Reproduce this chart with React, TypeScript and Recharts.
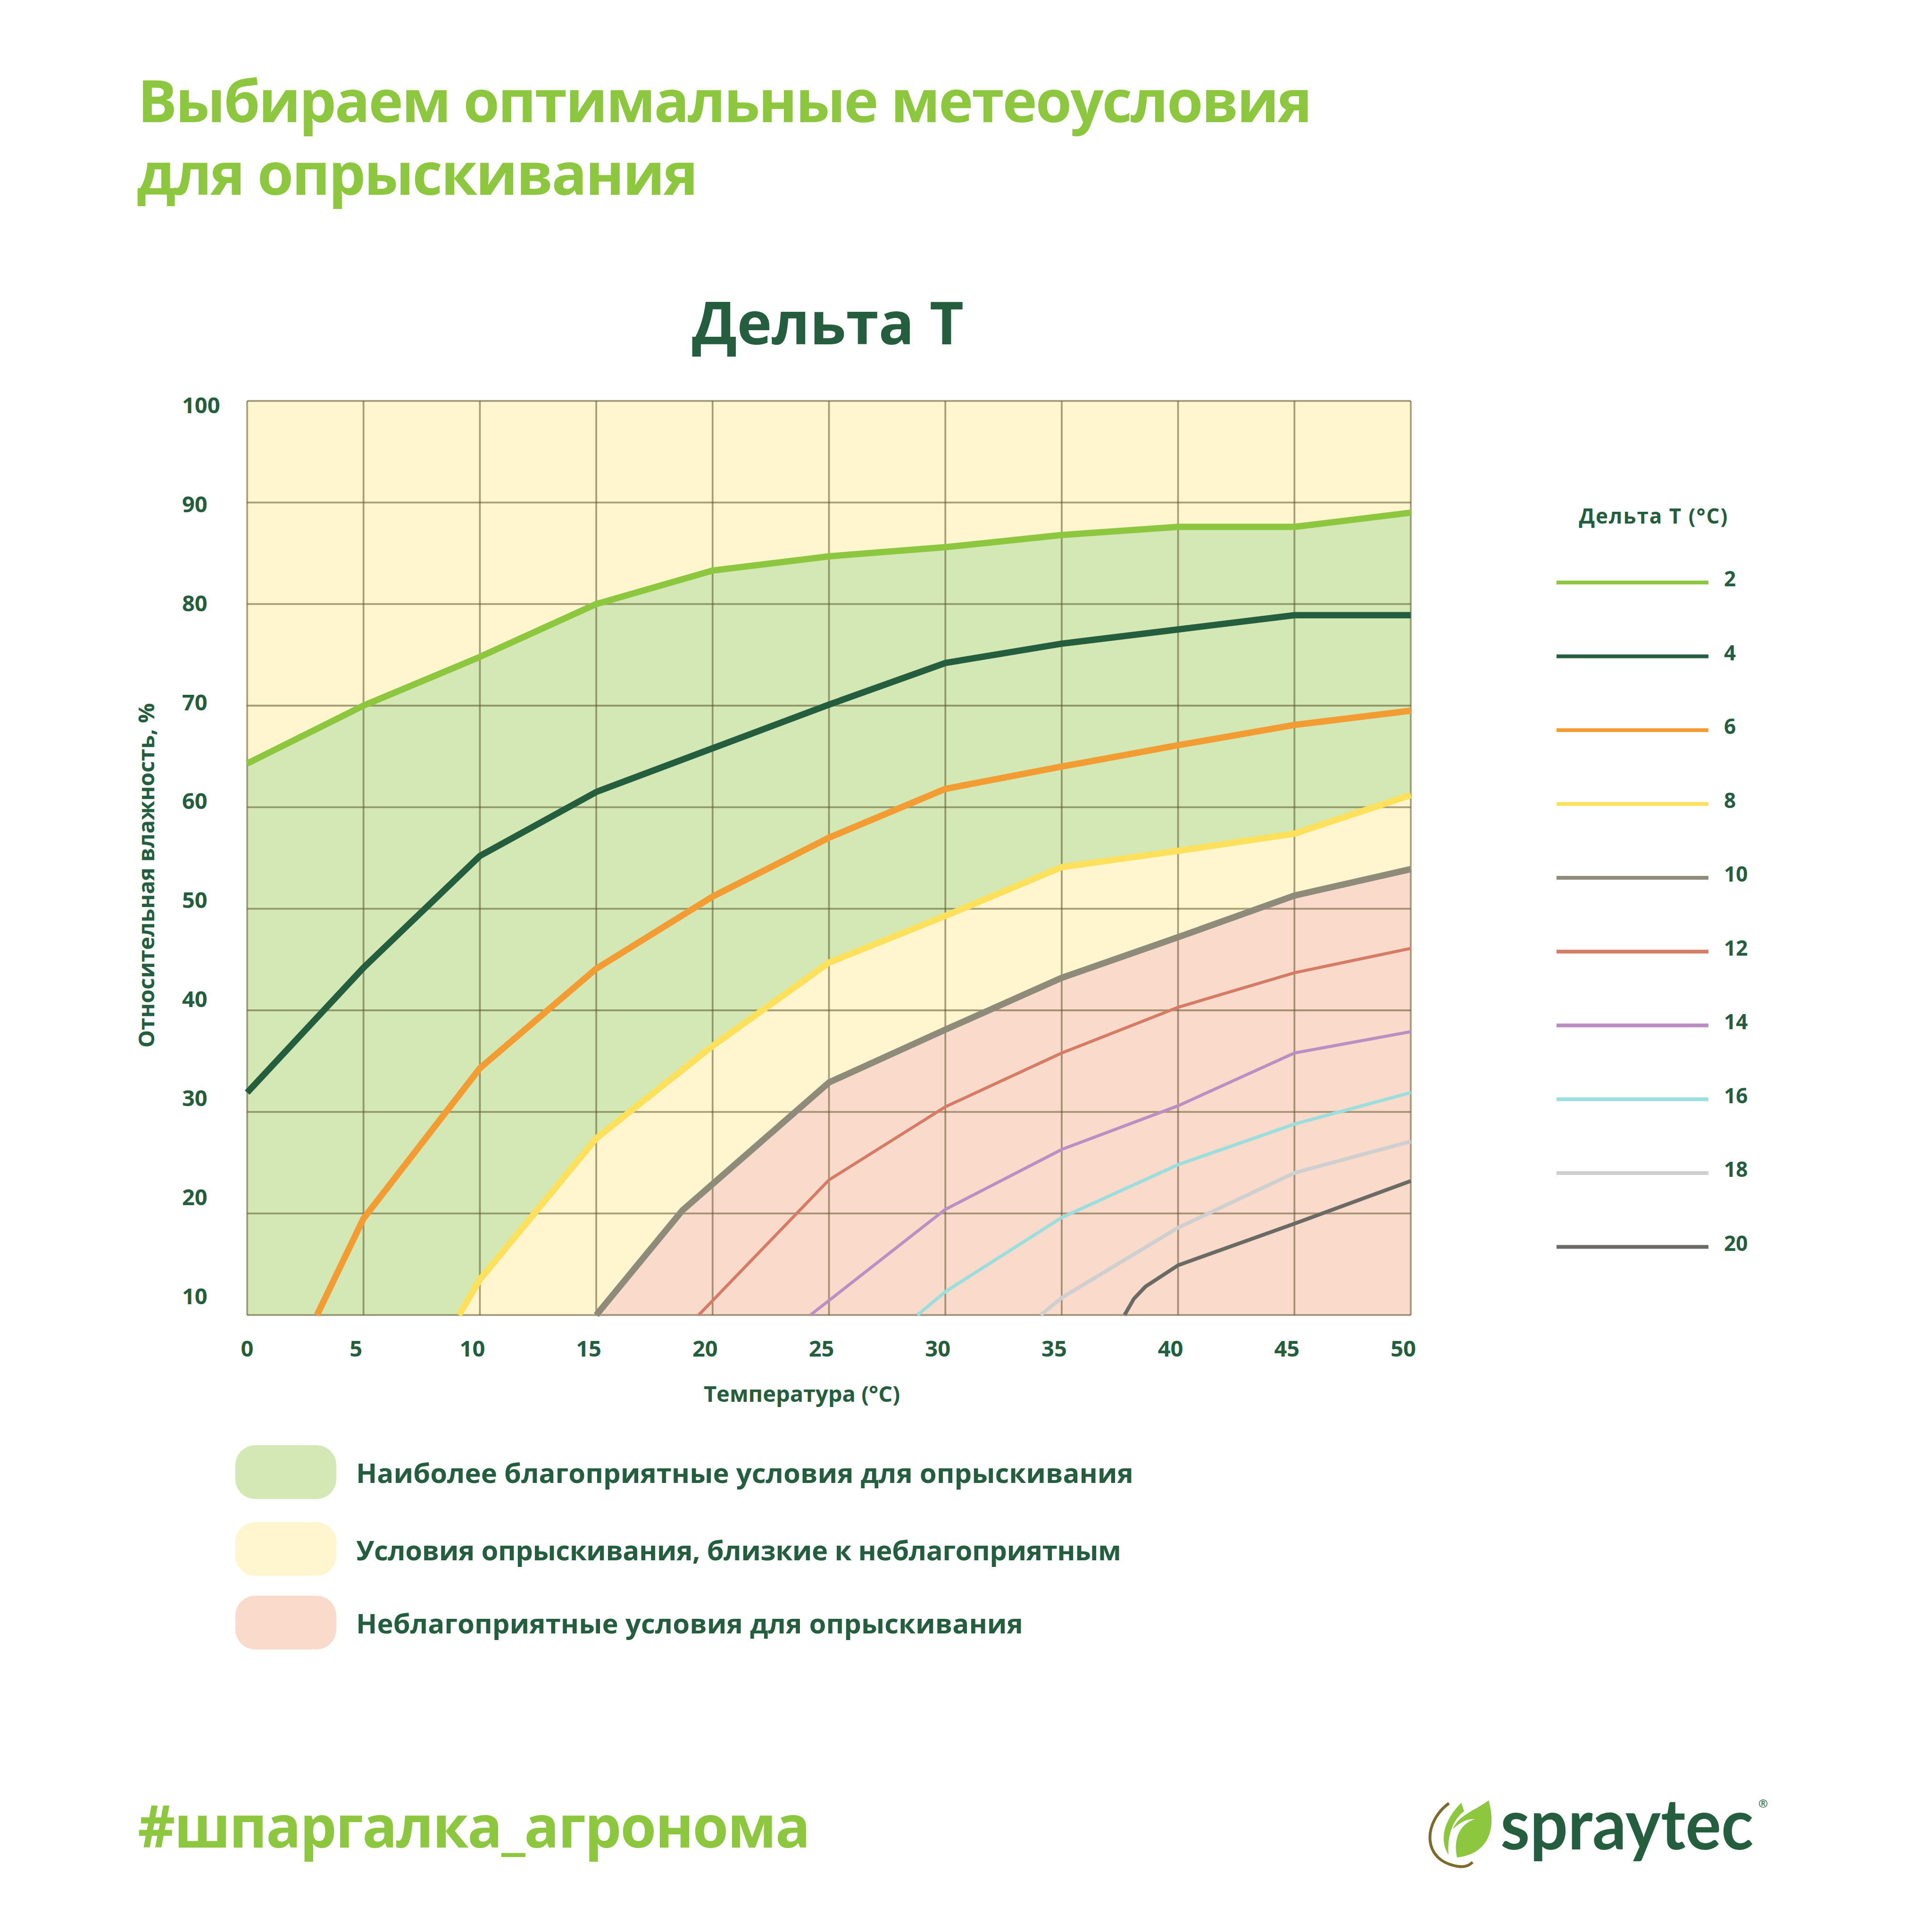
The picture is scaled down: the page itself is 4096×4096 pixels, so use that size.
import React from 'react';
import { ComposedChart, Area, Line, XAxis, YAxis, CartesianGrid } from 'recharts';

// ---------- data ----------
const tempTicks: number[] = [0, 5, 10, 15, 20, 25, 30, 35, 40, 45, 50];
const rhTicks: number[] = [10, 20, 30, 40, 50, 60, 70, 80, 90, 100];

type Pt = [number, number];
const dt2: Pt[] = [[0, 64.3], [5, 70], [10, 74.8], [15, 80], [20, 83.3], [25, 84.7], [30, 85.6], [35, 86.8], [40, 87.6], [45, 87.6], [50, 89]];
const dt4: Pt[] = [[0, 31.9], [5, 44.2], [10, 55.2], [15, 61.5], [20, 65.8], [25, 70.1], [30, 74.2], [35, 76.1], [40, 77.5], [45, 78.9], [50, 78.9]];
const dt6: Pt[] = [[3, 10], [5, 19.5], [10, 34.3], [15, 44.1], [20, 51.2], [25, 57.0], [30, 61.8], [35, 64.0], [40, 66.1], [45, 68.1], [50, 69.5]];
const dt8: Pt[] = [[9.1, 10], [10, 13.5], [15, 27.4], [20, 36.5], [25, 44.7], [30, 49.3], [35, 54.1], [40, 55.7], [45, 57.4], [50, 61.2]];
const dt10: Pt[] = [[15, 10], [18.7, 20.3], [25, 32.9], [30, 38.1], [35, 43.2], [40, 47.2], [45, 51.3], [50, 53.9]];
const dt12: Pt[] = [[19.4, 10], [25, 23.3], [30, 30.5], [35, 35.8], [40, 40.3], [45, 43.7], [50, 46.1]];
const dt14: Pt[] = [[24.2, 10], [30, 20.4], [35, 26.3], [40, 30.6], [45, 35.8], [50, 37.9]];
const dt16: Pt[] = [[28.8, 10], [30, 12.3], [35, 19.6], [40, 24.8], [45, 28.8], [50, 31.9]];
const dt18: Pt[] = [[34.1, 10], [35, 11.7], [40, 18.6], [45, 24.0], [50, 27.1]];
const dt20: Pt[] = [[37.7, 10], [38.1, 11.6], [38.6, 12.8], [40, 14.9], [45, 19.0], [50, 23.2]];

const seriesLabels: string[] = ['2', '4', '6', '8', '10', '12', '14', '16', '18', '20'];
const zoneLabels: string[] = [
  'Наиболее благоприятные условия для опрыскивания',
  'Условия опрыскивания, близкие к неблагоприятным',
  'Неблагоприятные условия для опрыскивания',
];

// ---------- styles ----------
const DARK = '#245E3E';
const LIGHTGREEN = '#8DC63F';
const FILL_GREEN = '#D3E8B4';
const FILL_YELLOW = '#FFF5CF';
const FILL_PINK = '#FADBCB';
const FONT = '"Open Sans", "Noto Sans", sans-serif';

const series = [
  { key: 'd2', pts: dt2, color: '#8DC63F', w: 13.5 },
  { key: 'd4', pts: dt4, color: '#245E3E', w: 13.5 },
  { key: 'd6', pts: dt6, color: '#F39C33', w: 13.5 },
  { key: 'd8', pts: dt8, color: '#FDE05B', w: 13.5 },
  { key: 'd10', pts: dt10, color: '#8F8B7A', w: 13.5 },
  { key: 'd12', pts: dt12, color: '#D67B66', w: 6.5 },
  { key: 'd14', pts: dt14, color: '#BC8FC4', w: 6.5 },
  { key: 'd16', pts: dt16, color: '#9CDDDD', w: 7 },
  { key: 'd18', pts: dt18, color: '#CFCFCF', w: 8 },
  { key: 'd20', pts: dt20, color: '#6B6A65', w: 8 },
];

const allT = Array.from(new Set(series.flatMap((s) => s.pts.map((p) => p[0])))).sort((a, b) => a - b);
const table = allT.map((t) => {
  const row: any = { t };
  series.forEach((s) => {
    const p = s.pts.find((q) => q[0] === t);
    row[s.key] = p ? p[1] : null;
  });
  return row;
});

const W = 4096;
const H = 4096;
const PLOT_LEFT = 524;
const PLOT_RIGHT = 2991;
const PLOT_TOP = 850;
const PLOT_BOTTOM = 2788;
const Y_AXIS_W = 200;
const X_AXIS_H = 200;

const YTick = (props: any) => {
  const { x, y, payload } = props;
  const v = payload.value as number;
  const dy = (9 - (100 - v) * 0.55) * 0.983;
  return (
    <text x={x} y={y + dy} dy="0.36em" textAnchor="start" fontFamily={FONT} fontWeight={700} fontSize={47} fill={DARK}>
      {v}
    </text>
  );
};

const XTick = (props: any) => {
  const { x, y, payload } = props;
  const v = payload.value as number;
  const dx = v === 0 ? 0 : -16;
  return (
    <text x={x + dx} y={y} dy="0.72em" textAnchor="middle" fontFamily={FONT} fontWeight={700} fontSize={47} fill={DARK}>
      {v}
    </text>
  );
};

const Layer = ({ children }: { children: React.ReactNode }) => (
  <div style={{ position: 'absolute', left: 0, top: 0, width: W, height: H }}>{children}</div>
);

export default function App() {
  const legendY0 = 1235;
  const legendStep = 156.5;
  return (
    <div style={{ position: 'absolute', left: 0, top: 0, width: W, height: H, background: '#fff', overflow: 'hidden' }}>
      {/* fills layer */}
      <Layer>
        <ComposedChart
          width={W}
          height={H}
          data={table}
          margin={{ left: PLOT_LEFT, right: W - PLOT_RIGHT, top: PLOT_TOP, bottom: H - PLOT_BOTTOM }}
        >
          <XAxis dataKey="t" type="number" domain={[0, 50]} ticks={tempTicks} hide />
          <YAxis type="number" domain={[10, 100]} ticks={rhTicks} hide />
          <CartesianGrid stroke="none" fill={FILL_YELLOW} fillOpacity={1} />
          <Area dataKey="d2" type="linear" stroke="none" fill={FILL_GREEN} fillOpacity={1} connectNulls baseValue={10} isAnimationActive={false} />
          <Area dataKey="d8" type="linear" stroke="none" fill={FILL_YELLOW} fillOpacity={1} connectNulls baseValue={10} isAnimationActive={false} />
          <Area dataKey="d10" type="linear" stroke="none" fill={FILL_PINK} fillOpacity={1} connectNulls baseValue={10} isAnimationActive={false} />
        </ComposedChart>
      </Layer>
      {/* grid + lines layer */}
      <Layer>
        <ComposedChart
          width={W}
          height={H}
          data={table}
          margin={{ left: PLOT_LEFT - Y_AXIS_W, right: W - PLOT_RIGHT, top: PLOT_TOP, bottom: H - PLOT_BOTTOM - X_AXIS_H }}
        >
          <XAxis
            dataKey="t"
            type="number"
            domain={[0, 50]}
            ticks={tempTicks}
            interval={0}
            height={X_AXIS_H}
            axisLine={false}
            tickLine={false}
            tickSize={0}
            tickMargin={54}
            tick={XTick}
          />
          <YAxis
            type="number"
            domain={[10, 100]}
            ticks={rhTicks}
            interval={0}
            width={Y_AXIS_W}
            axisLine={false}
            tickLine={false}
            tickSize={0}
            tickMargin={138}
            tick={YTick}
          />
          <CartesianGrid stroke="#5E5530" strokeOpacity={0.55} strokeWidth={3.8} />
          {series.map((s) => (
            <Line
              key={s.key}
              dataKey={s.key}
              type="linear"
              stroke={s.color}
              strokeWidth={s.w}
              dot={false}
              activeDot={false}
              connectNulls
              isAnimationActive={false}
            />
          ))}
        </ComposedChart>
      </Layer>
      {/* text and decoration layer */}
      <svg width={W} height={H} style={{ position: 'absolute', left: 0, top: 0 }}>
        <text x={292} y={259} fontFamily={FONT} fontWeight={700} fontSize={124} fill={LIGHTGREEN} textLength={2490}>
          Выбираем оптимальные метеоусловия
        </text>
        <text x={290} y={413} fontFamily={FONT} fontWeight={700} fontSize={124} fill={LIGHTGREEN} textLength={1190}>
          для опрыскивания
        </text>
        <text x={1755} y={730} textAnchor="middle" fontFamily={FONT} fontWeight={700} fontSize={125} fill={DARK}>
          Дельта Т
        </text>
        {/* axis titles */}
        <text
          x={0}
          y={0}
          transform={`translate(327, 1856) rotate(-90)`}
          textAnchor="middle"
          fontFamily={FONT}
          fontWeight={700}
          fontSize={47}
          fill={DARK}
        >
          Относительная влажность, %
        </text>
        <text x={1700} y={2972} textAnchor="middle" fontFamily={FONT} fontWeight={700} fontSize={47} fill={DARK}>
          Температура (°С)
        </text>
        {/* right legend */}
        <text x={3505} y={1110} textAnchor="middle" fontFamily={FONT} fontWeight={700} fontSize={44} fill={DARK} textLength={315}>
          Дельта Т (°C)
        </text>
        {series.map((s, i) => (
          <g key={s.key}>
            <line x1={3300} x2={3622} y1={legendY0 + i * legendStep} y2={legendY0 + i * legendStep} stroke={s.color} strokeWidth={8} />
            <text x={3655} y={legendY0 + i * legendStep + 8} fontFamily={FONT} fontWeight={700} fontSize={44} fill={DARK}>
              {seriesLabels[i]}
            </text>
          </g>
        ))}
        {/* zone legend */}
        {[FILL_GREEN, FILL_YELLOW, FILL_PINK].map((c, i) => {
          const tops = [3064, 3227, 3383];
          const bases = [3144, 3308, 3463];
          const lens = [1648, 1622, 1414];
          return (
            <g key={i}>
              <rect x={499} y={tops[i]} width={214} height={114} rx={42} ry={42} fill={c} />
              <text x={755} y={bases[i]} fontFamily={FONT} fontWeight={700} fontSize={58} fill={DARK} textLength={lens[i]}>
                {zoneLabels[i]}
              </text>
            </g>
          );
        })}
        {/* footer */}
        <text x={292} y={3917} fontFamily={FONT} fontWeight={700} fontSize={123} fill={LIGHTGREEN} textLength={1426}>
          #шпаргалка_агронома
        </text>
        {/* logo */}
        <path d="M 3072 3823 C 3018 3862, 3012 3945, 3092 3957 C 3105 3959, 3115 3955, 3122 3948" fill="none" stroke="#7D6B2B" strokeWidth={6} />
        <path d="M 3098 3822 C 3062 3858, 3050 3900, 3071 3932 C 3068 3892, 3080 3858, 3104 3840 Z" fill={LIGHTGREEN} />
        <path d="M 3156 3817 C 3172 3872, 3160 3930, 3089 3938 C 3080 3895, 3098 3866, 3126 3857 C 3110 3855, 3092 3866, 3080 3878 C 3092 3848, 3128 3838, 3156 3817 Z" fill={LIGHTGREEN} />
        <g transform="translate(3181, 3921) scale(0.9, 1)">
          <text x={0} y={0} fontFamily='"Lato", "Open Sans", sans-serif' fontWeight={700} fontSize={150} fill={DARK} textLength={596} lengthAdjust="spacingAndGlyphs">
            spraytec
          </text>
        </g>
        <text x={3728} y={3832} fontFamily={FONT} fontSize={24} fill={DARK}>
          ®
        </text>
      </svg>
    </div>
  );
}
